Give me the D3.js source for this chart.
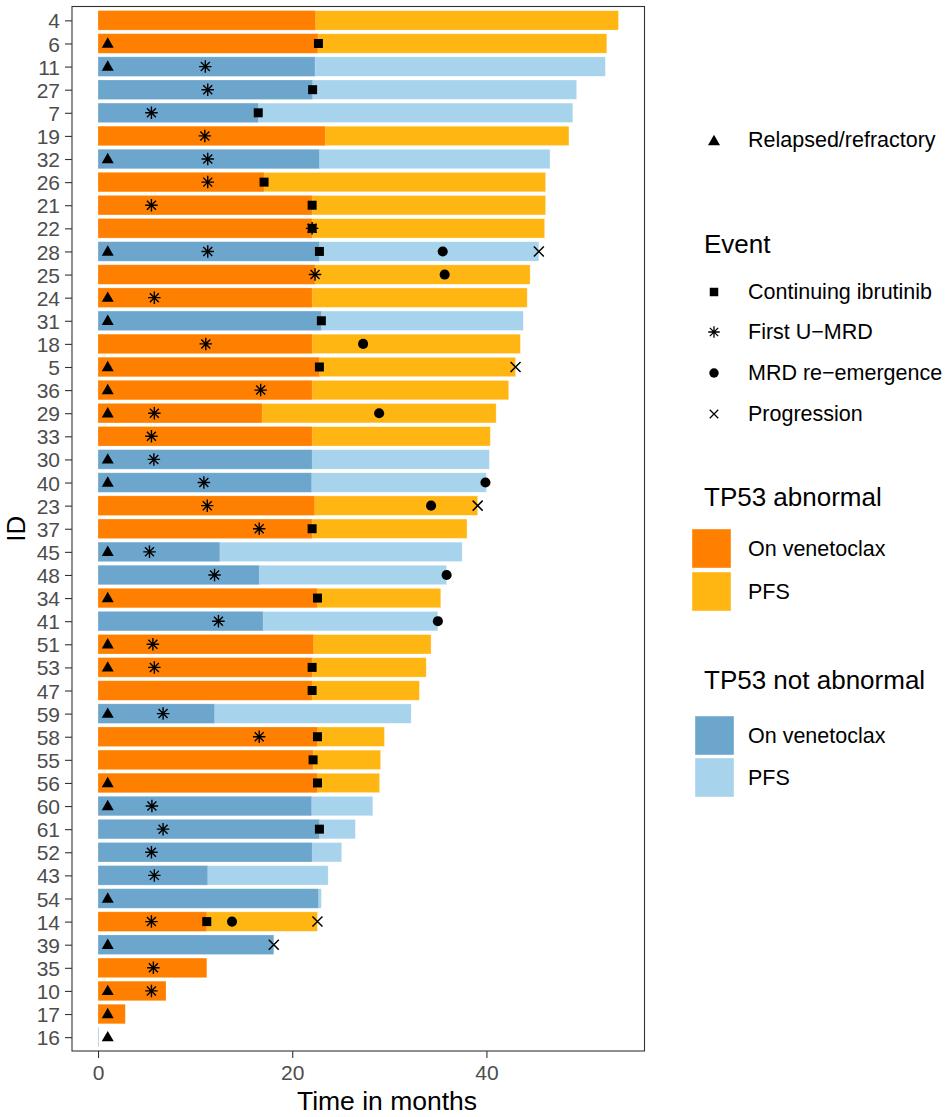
<!DOCTYPE html>
<html>
<head>
<meta charset="utf-8">
<script src="https://cdn.jsdelivr.net/npm/d3@7"></script>
<style>
  html, body { margin: 0; padding: 0; background: #fff; }
  svg { display: block; font-family: "Liberation Sans", Arial, Helvetica, sans-serif; }
</style>
</head>
<body>
<svg id="chart" width="948" height="1117"></svg>
<script>
// Patients, top to bottom
const patientIds = [4, 6, 11, 27, 7, 19, 32, 26, 21, 22, 28, 25, 24, 31, 18, 5, 36, 29, 33, 30, 40, 23, 37,
  45, 48, 34, 41, 51, 53, 47, 59, 58, 55, 56, 60, 61, 52, 43, 54, 14, 39, 35, 10, 17, 16];

// 1 = TP53 abnormal, 0 = TP53 not abnormal
const tp53Abnormal = [1, 1, 0, 0, 0, 1, 0, 1, 1, 1, 0, 1, 1, 0, 1, 1, 1, 1, 1, 0, 0, 1, 1,
  0, 0, 1, 0, 1, 1, 1, 0, 1, 1, 1, 0, 0, 0, 0, 0, 1, 0, 1, 1, 1, 0];

// Months on venetoclax
const onVenetoclax = [22.4, 22.65, 22.35, 22.1, 16.5, 23.4, 22.8, 17.1, 22.05, 22.05, 22.8, 22.35, 22.05,
  23.0, 22.05, 22.8, 22.05, 16.9, 22.05, 22.05, 22.0, 22.3, 22.05, 12.55, 16.6, 22.6, 17.0, 22.2,
  22.05, 22.05, 12.0, 22.6, 22.15, 22.6, 22.0, 22.8, 22.05, 11.3, 22.7, 11.2, 18.1, 11.2, 7.0, 2.8, 0.05];

// Progression-free survival, months
const pfs = [53.6, 52.4, 52.25, 49.3, 48.9, 48.5, 46.55, 46.1, 46.1, 46.0, 45.4, 44.5, 44.2,
  43.8, 43.5, 43.0, 42.3, 41.0, 40.4, 40.3, 40.0, 39.1, 38.0, 37.5, 35.9, 35.3, 35.0, 34.3,
  33.8, 33.1, 32.25, 29.5, 29.1, 29.0, 28.3, 26.5, 25.1, 23.7, 23.0, 22.6, 18.1, 11.2, 7.0, 2.8, 0.05];

// Relapsed/refractory patients (marked at month 1)
const relapsedIds = [6, 11, 32, 28, 24, 31, 5, 36, 29, 30, 40, 45, 34, 51, 53, 59, 56, 60, 54, 39, 10, 17, 16];
const relapsedMonth = 1;

// Events: [patient id, month]
const continuingIbrutinib = [[6, 22.7], [27, 22.1], [7, 16.5], [26, 17.1], [21, 22.05], [22, 22.05],
  [28, 22.8], [31, 23.0], [5, 22.8], [37, 22.05], [34, 22.6], [53, 22.05], [47, 22.05], [58, 22.6],
  [55, 22.15], [56, 22.6], [61, 22.8], [14, 11.2]];
const firstUMRD = [[11, 11.05], [27, 11.3], [7, 5.5], [19, 11.0], [32, 11.3], [26, 11.3], [21, 5.5],
  [22, 22.05], [28, 11.3], [25, 22.35], [24, 5.8], [18, 11.1], [36, 16.75], [29, 5.8], [33, 5.5],
  [30, 5.75], [40, 10.9], [23, 11.25], [37, 16.6], [45, 5.3], [48, 12.0], [41, 12.4], [51, 5.65],
  [53, 5.8], [59, 6.7], [58, 16.6], [60, 5.55], [61, 6.7], [52, 5.5], [43, 5.8], [14, 5.5], [35, 5.7], [10, 5.5]];
const mrdReemergence = [[28, 35.5], [25, 35.7], [18, 27.3], [29, 28.95], [40, 39.9], [23, 34.3],
  [48, 35.9], [41, 35.0], [14, 13.8]];
const progression = [[28, 45.4], [5, 43.0], [23, 39.1], [14, 22.6], [39, 18.1]];

const xTicks = [0, 20, 40];

// Fill colours
const colours = {
  abnVen: "#FF7F00", abnPfs: "#FFB612",
  norVen: "#6DA6CD", norPfs: "#A7D3EC"
};

const svg = d3.select("#chart");
const panel = { left: 72, right: 644.5, top: 6.5, bottom: 1051 };

const xMax = d3.max(pfs);
const x = d3.scaleLinear()
  .domain([-0.05 * xMax, 1.05 * xMax])
  .range([panel.left, panel.right]);

const y = d3.scalePoint()
  .domain(patientIds.map(String))
  .range([panel.top, panel.bottom])
  .padding(0.6);

const barH = y.step() * 0.84;

const rows = patientIds.map((id, i) => ({
  id: String(id), abn: tp53Abnormal[i] === 1, ven: onVenetoclax[i], pfs: pfs[i]
}));

// PFS bars (full length), then on-venetoclax bars on top
const bars = svg.append("g");
bars.selectAll("rect.pfs").data(rows).join("rect")
  .attr("class", "pfs")
  .attr("x", x(0))
  .attr("y", d => y(d.id) - barH / 2)
  .attr("width", d => x(d.pfs) - x(0))
  .attr("height", barH)
  .attr("fill", d => d.abn ? colours.abnPfs : colours.norPfs)
  .attr("stroke", "#fff").attr("stroke-opacity", 0.5).attr("stroke-width", 0.6);
bars.selectAll("rect.ven").data(rows).join("rect")
  .attr("class", "ven")
  .attr("x", x(0))
  .attr("y", d => y(d.id) - barH / 2)
  .attr("width", d => x(d.ven) - x(0))
  .attr("height", barH)
  .attr("fill", d => d.abn ? colours.abnVen : colours.norVen)
  .attr("stroke", "#fff").attr("stroke-opacity", 0.4).attr("stroke-width", 0.5);

// Marker shapes
const triPath = (s) => `M0,${-s * 0.52}L${s * 0.5},${s * 0.35}L${-s * 0.5},${s * 0.35}Z`;
const sqPath = (s) => `M${-s / 2},${-s / 2}h${s}v${s}h${-s}Z`;
const xPath = (s) => `M${-s / 2},${-s / 2}L${s / 2},${s / 2}M${-s / 2},${s / 2}L${s / 2},${-s / 2}`;
const starPath = (s) => {
  const r = s / 2, d = r * 0.72;
  return `M0,${-r}V${r}M${-r},0H${r}M${-d},${-d}L${d},${d}M${-d},${d}L${d},${-d}`;
};

function drawFilled(g, pts, path) {
  g.selectAll(null).data(pts).join("path")
    .attr("transform", d => `translate(${x(d[1])},${y(String(d[0]))})`)
    .attr("d", path).attr("fill", "#000");
}
function drawStroked(g, pts, path, w) {
  g.selectAll(null).data(pts).join("path")
    .attr("transform", d => `translate(${x(d[1])},${y(String(d[0]))})`)
    .attr("d", path).attr("fill", "none").attr("stroke", "#000").attr("stroke-width", w);
}

const marks = svg.append("g");
drawFilled(marks, relapsedIds.map(id => [id, relapsedMonth]), triPath(12));
drawFilled(marks, continuingIbrutinib, sqPath(9));
drawStroked(marks, firstUMRD, starPath(12.5), 1.4);
drawFilled(marks, mrdReemergence, d3.symbol(d3.symbolCircle, 80)());
drawStroked(marks, progression, xPath(10), 1.5);

// Panel border
svg.append("rect")
  .attr("x", panel.left).attr("y", panel.top)
  .attr("width", panel.right - panel.left).attr("height", panel.bottom - panel.top)
  .attr("fill", "none").attr("stroke", "#333").attr("stroke-width", 1.1);

// Axes
const tickColour = "#333", labelColour = "#4D4D4D";
const yAxis = svg.append("g")
  .attr("transform", `translate(${panel.left},0)`)
  .call(d3.axisLeft(y).tickSize(7).tickPadding(5));
const xAxis = svg.append("g")
  .attr("transform", `translate(0,${panel.bottom})`)
  .call(d3.axisBottom(x).tickValues(xTicks).tickSize(7).tickPadding(6));
[yAxis, xAxis].forEach(a => {
  a.select(".domain").remove();
  a.selectAll(".tick line").attr("stroke", tickColour).attr("stroke-width", 1.1);
  a.selectAll(".tick text").attr("fill", labelColour)
    .style("font-size", "21px").style("font-family", "'Liberation Sans', Arial, sans-serif");
});
yAxis.selectAll(".tick text").attr("dy", "0.36em");
xAxis.selectAll(".tick text").attr("dy", "0.78em");

svg.append("text")
  .attr("x", 387).attr("y", 1101)
  .attr("text-anchor", "middle").attr("dominant-baseline", "central")
  .style("font-size", "26.5px").attr("fill", "#000")
  .text("Time in months");
svg.append("text")
  .attr("transform", `translate(16,${(panel.top + panel.bottom) / 2}) rotate(-90)`)
  .attr("text-anchor", "middle").attr("dominant-baseline", "central")
  .style("font-size", "26px").attr("fill", "#000")
  .text("ID");

// Legends
const legend = svg.append("g");
const legText = (tx, ty, t, size) => legend.append("text")
  .attr("x", tx).attr("y", ty).attr("dominant-baseline", "central")
  .style("font-size", size + "px").attr("fill", "#000").text(t);

legend.append("path").attr("transform", "translate(714,141)").attr("d", triPath(12)).attr("fill", "#000");
legText(748, 140, "Relapsed/refractory", 21.5);

legText(704, 244, "Event", 26);
const eventItems = [
  { label: "Continuing ibrutinib", y: 292, draw: g => g.attr("d", sqPath(8.5)).attr("fill", "#000") },
  { label: "First U\u2212MRD", y: 332, draw: g => g.attr("d", starPath(11.5)).attr("fill", "none").attr("stroke", "#000").attr("stroke-width", 1.3) },
  { label: "MRD re\u2212emergence", y: 373, draw: g => g.attr("d", d3.symbol(d3.symbolCircle, 70)()).attr("fill", "#000") },
  { label: "Progression", y: 414, draw: g => g.attr("d", xPath(8.5)).attr("fill", "none").attr("stroke", "#000").attr("stroke-width", 1.3) }
];
eventItems.forEach(it => {
  legend.append("path").attr("transform", `translate(714,${it.y})`).call(it.draw);
  legText(748, it.y, it.label, 21.5);
});

const fillLegends = [
  { title: "TP53 abnormal", ty: 497, kx: 692, keys: [[colours.abnVen, "On venetoclax", 529], [colours.abnPfs, "PFS", 572]] },
  { title: "TP53 not abnormal", ty: 680, kx: 695, keys: [[colours.norVen, "On venetoclax", 716], [colours.norPfs, "PFS", 758]] }
];
fillLegends.forEach(l => {
  legText(704, l.ty, l.title, 26);
  l.keys.forEach(([c, t, ky]) => {
    legend.append("rect").attr("x", l.kx).attr("y", ky).attr("width", 39).attr("height", 39)
      .attr("fill", c).attr("stroke", "#fff").attr("stroke-opacity", 0.5).attr("stroke-width", 0.8);
    legText(748, ky + 20, t, 21.5);
  });
});
</script>
</body>
</html>
